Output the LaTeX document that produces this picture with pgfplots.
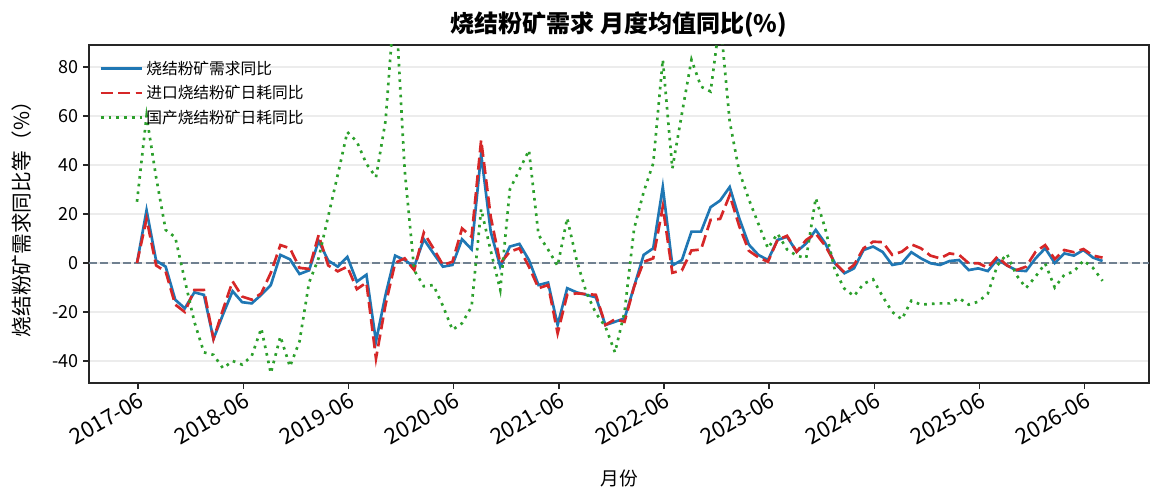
\documentclass[border=0pt]{standalone}
\usepackage{fontspec}
\setmainfont{Noto Sans CJK SC}
\usepackage{pgfplots}
\pgfplotsset{compat=1.18}
\usepackage{pgfplotstable}

\definecolor{cblue}{RGB}{31,119,180}
\definecolor{cred}{RGB}{214,39,40}
\definecolor{cgreen}{RGB}{44,160,44}
\definecolor{czero}{RGB}{112,128,144}
\definecolor{cgrid}{RGB}{236,236,236}
\definecolor{cframe}{RGB}{38,38,38}

% j = point index (spacing about 1.1 months), dem = demand, imp = imported, dom = domestic
\pgfplotstableread{
j dem imp dom
0 0 0 25
1 21.5 18 60
2 1 -1 35
3 -1.5 -3.5 13.5
4 -15 -17 10.5
5 -18.5 -20 -7
6 -12 -11 -24
7 -13 -11 -36.5
8 -31 -31 -37.5
9 -21 -19 -43
10 -11.5 -7.5 -40
11 -16 -13.7 -41.5
12 -16.5 -15 -38
13 -13 -12.4 -26.7
14 -9 -4 -45
15 3.3 7.3 -30
16 1.5 6 -42.3
17 -4.5 -2 -32
18 -3 -2.4 -8
19 9 11.4 2
20 1 -1 19
21 -1.5 -3.4 36
22 2.5 -1.5 53.5
23 -7.6 -10.7 49.5
24 -4.8 -8 40.5
25 -32 -39 35
26 -13 -17 58
27 3 0 110
28 1.2 1.9 38
29 -1.5 -2.9 -3
30 9.7 12.4 -9.5
31 4 6 -9
32 -1.5 -0.8 -17.5
33 -0.8 0.5 -27.3
34 9.7 14.1 -24.6
35 5.6 10.7 -17.8
36 44.5 50.2 22
37 12.8 18.9 5
38 -1.5 -0.1 -11
39 6.7 4.6 30
40 7.8 6 38
41 1.2 -1.5 46
42 -9 -10.3 11.5
43 -8 -9 5.5
44 -25.3 -28.7 -1.2
45 -10.3 -13 18.3
46 -12 -12.4 1
47 -13 -12.7 -12
48 -14 -13 -20.5
49 -25.3 -25.3 -26
50 -24 -23 -36.5
51 -22.6 -24 -20
52 -9.6 -9.7 14
53 3.3 0.5 29
54 6 1.9 40.7
55 31 23 83
56 -1 -4 38.6
57 1.2 -3 61
58 12.8 5.1 83
59 12.8 5.5 72
60 22.8 17.6 70
61 25.5 18 100
62 31 27.7 57.7
63 18.2 15 37.3
64 7.5 5 26
65 3.3 2.3 16
66 1.2 0.5 6
67 9.4 9.4 12
68 10.7 11.1 5.5
69 4.6 4.6 3
70 8 9.4 2
71 13.5 12 26.5
72 8 7 14
73 -0.1 0 -3
74 -4.2 -3.8 -10.5
75 -2.2 -0.8 -13.5
76 5.3 6 -8.5
77 6.7 8.7 -6.7
78 4.5 8.5 -13.7
79 -0.8 3.3 -20
80 -0.1 4.6 -23
81 4.4 7.6 -15.4
82 1.9 6 -17
83 -0.1 3 -16.7
84 -0.8 1.9 -16.5
85 0.8 3.9 -16.5
86 1.2 3.3 -14.4
87 -2.9 -0.1 -17
88 -2.2 -0.1 -15.8
89 -3.3 -1.9 -12.5
90 1.5 2.6 -1
91 -1 -1 3.7
92 -3 -2.9 -5
93 -3.3 -1.5 -10.2
94 1.9 4.6 -5.5
95 6 7.3 -0.2
96 0 1.6 -10
97 3.9 5.3 -4.8
98 3 4.4 -3.5
99 5.3 5.7 1
100 2.2 3 -2
101 0.8 2.2 -7.3
}\yoy

\begin{document}
\begin{tikzpicture}
\begin{axis}[
    at={(0pt,0pt)}, anchor=south west,
    scale only axis,
    width=795pt, height=253.5pt,
    xmin=-5.02, xmax=105.86,
    ymin=-49, ymax=89,
    xtick={0.12,11.12,22.12,33.12,44.12,55.12,66.12,77.12,88.12,99.12},
    xticklabels={2017-06,2018-06,2019-06,2020-06,2021-06,2022-06,2023-06,2024-06,2025-06,2026-06},
    ytick={-40,-20,0,20,40,60,80},
    xtick pos=bottom, ytick pos=left,
    tick align=outside,
    major tick length=4.5pt,
    tick style={color=cframe, line width=1.1pt},
    axis line style={color=cframe, line width=1.2pt},
    ymajorgrids=true,
    grid style={color=cgrid, line width=1.1pt},
    /pgf/number format/assume math mode=true,
    yticklabel style={font=\fontsize{13.5}{16}\selectfont},
    xticklabel style={rotate=30, anchor=north east, inner sep=1pt,
        font=\fontsize{16.5}{18}\selectfont},
    title={烧结粉矿需求 月度均值同比(\%)},
    title style={at={(axis description cs:0.5,1.036)}, anchor=center,
        font=\bfseries\fontsize{18}{21}\selectfont},
    xlabel={月份},
    xlabel style={at={(axis description cs:0.5,-0.281)}, anchor=center,
        font=\fontsize{14}{16}\selectfont},
    ylabel={烧结粉矿需求同比等（\%）},
    ylabel style={at={(axis description cs:-0.0632,0.5)}, anchor=center,
        font=\fontsize{15.5}{17}\selectfont},
    legend cell align=left,
    legend style={at={(axis description cs:0.006,0.97)}, anchor=north west,
        draw=none, fill=none, row sep=3pt,
        font=\fontsize{11.8}{13}\selectfont},
    legend image code/.code={\draw[#1] (0pt,0pt) -- (26.5pt,0pt);
        \path (0pt,0pt) -- (31pt,0pt);},
]
% zero reference line
\addplot[forget plot, color=czero, line width=1.1pt, dash pattern=on 6pt off 2.5pt]
    coordinates {(-5.02,0) (105.86,0)};

\addplot[color=cblue, line width=2pt] table[x=j, y=dem] {\yoy};
\addlegendentry{烧结粉矿需求同比}
\addplot[color=cred, line width=2pt, dash pattern=on 9pt off 4pt] table[x=j, y=imp] {\yoy};
\addlegendentry{进口烧结粉矿日耗同比}
\addplot[color=cgreen, line width=2pt, dash pattern=on 2pt off 3.8pt] table[x=j, y=dom] {\yoy};
\addlegendentry{国产烧结粉矿日耗同比}
\end{axis}
\pgfresetboundingbox
\path[use as bounding box] (-66.75pt,-90pt) rectangle (807.75pt,287.25pt);
\end{tikzpicture}
\end{document}
